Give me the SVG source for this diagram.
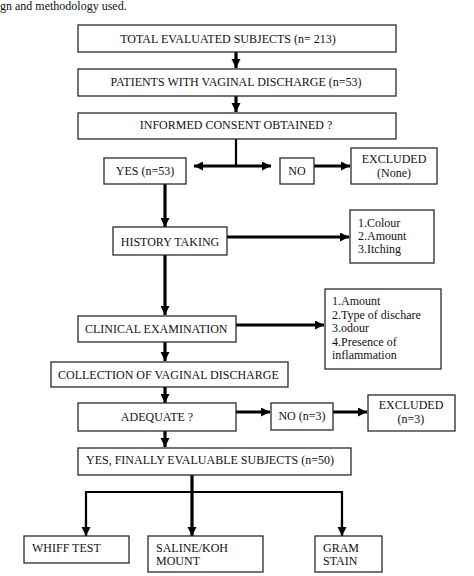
<svg xmlns="http://www.w3.org/2000/svg" width="474" height="576" viewBox="0 0 474 576">
<defs>
<style>
.b{fill:#fff;stroke:#2a2a2a;stroke-width:1.3}
.t{font-family:"Liberation Serif","Times New Roman",serif;font-size:12px;fill:#111}
.c{text-anchor:middle}
.a{stroke:#000;stroke-width:3.2;fill:none}
.l{stroke:#000;stroke-width:2.2;fill:none}
</style>
<marker id="h" markerUnits="userSpaceOnUse" markerWidth="10" markerHeight="10" refX="9" refY="4.5" orient="auto">
<path d="M0,0 L9,4.5 L0,9 z" fill="#000"/>
</marker>
<marker id="hs" markerUnits="userSpaceOnUse" markerWidth="10" markerHeight="10" refX="0" refY="4.5" orient="auto">
<path d="M9,0 L0,4.5 L9,9 z" fill="#000"/>
</marker>
</defs>
<rect width="474" height="576" fill="#fff"/>
<text class="t" x="0" y="10" font-size="13">gn and methodology used.</text>

<g id="connectors">
<line class="a" x1="236" y1="52" x2="236" y2="68" marker-end="url(#h)"/>
<line class="a" x1="236" y1="96" x2="236" y2="112" marker-end="url(#h)"/>
<line class="l" x1="236" y1="139" x2="236" y2="166"/>
<line class="a" x1="194" y1="166" x2="271" y2="166" marker-start="url(#hs)" marker-end="url(#h)"/>
<line class="a" x1="314" y1="166" x2="350" y2="166" marker-end="url(#h)"/>
<line class="a" x1="165" y1="184" x2="165" y2="227" marker-end="url(#h)"/>
<line class="a" x1="227" y1="237" x2="349" y2="237" marker-end="url(#h)"/>
<line class="a" x1="165" y1="255" x2="165" y2="315" marker-end="url(#h)"/>
<line class="a" x1="236" y1="325" x2="324" y2="325" marker-end="url(#h)"/>
<line class="a" x1="165" y1="342" x2="165" y2="361" marker-end="url(#h)"/>
<line class="a" x1="165" y1="387" x2="165" y2="403" marker-end="url(#h)"/>
<line class="a" x1="236" y1="412" x2="270" y2="412" marker-end="url(#h)"/>
<line class="a" x1="333" y1="412" x2="367" y2="412" marker-end="url(#h)"/>
<line class="a" x1="165" y1="431" x2="165" y2="447" marker-end="url(#h)"/>
<line class="a" x1="192" y1="475" x2="192" y2="536" marker-end="url(#h)"/>
<path class="l" d="M86,536 V492 H342 V536" fill="none"/>
<line class="l" x1="86" y1="520" x2="86" y2="536" marker-end="url(#h)"/>
<line class="l" x1="342" y1="520" x2="342" y2="536" marker-end="url(#h)"/>
</g>

<g id="n1"><rect class="b" x="78" y="25" width="318" height="27"/><text class="t c" x="228" y="43">TOTAL EVALUATED SUBJECTS (n= 213)</text></g>
<g id="n2"><rect class="b" x="78" y="69" width="318" height="27"/><text class="t c" x="236" y="86">PATIENTS WITH VAGINAL DISCHARGE (n=53)</text></g>
<g id="n3"><rect class="b" x="78" y="113" width="318" height="26"/><text class="t c" x="236" y="129">INFORMED CONSENT OBTAINED ?</text></g>
<g id="yes"><rect class="b" x="104" y="158" width="82" height="26"/><text class="t c" x="145" y="175">YES (n=53)</text></g>
<g id="no"><rect class="b" x="280" y="158" width="34" height="26"/><text class="t c" x="297" y="175">NO</text></g>
<g id="excl1"><rect class="b" x="351" y="148" width="86" height="36"/><text class="t c" x="394" y="163">EXCLUDED</text><text class="t c" x="394" y="177">(None)</text></g>
<g id="hist"><rect class="b" x="113" y="227" width="114" height="28"/><text class="t c" x="170" y="246">HISTORY TAKING</text></g>
<g id="list1"><rect class="b" x="350" y="210" width="84" height="53"/><text class="t" x="358" y="227">1.Colour</text><text class="t" x="358" y="240">2.Amount</text><text class="t" x="358" y="253">3.Itching</text></g>
<g id="clin"><rect class="b" x="78" y="316" width="158" height="26"/><text class="t" x="85" y="333">CLINICAL EXAMINATION</text></g>
<g id="list2"><rect class="b" x="325" y="289" width="116" height="80"/><text class="t" x="332" y="305">1.Amount</text><text class="t" x="332" y="319">2.Type of dischare</text><text class="t" x="332" y="332">3.odour</text><text class="t" x="332" y="346">4.Presence of</text><text class="t" x="332" y="359">inflammation</text></g>
<g id="coll"><rect class="b" x="51" y="362" width="237" height="25"/><text class="t" x="58" y="379">COLLECTION OF VAGINAL DISCHARGE</text></g>
<g id="adeq"><rect class="b" x="78" y="403" width="158" height="28"/><text class="t c" x="157" y="421">ADEQUATE ?</text></g>
<g id="no3"><rect class="b" x="271" y="403" width="62" height="27"/><text class="t c" x="302" y="420">NO (n=3)</text></g>
<g id="excl2"><rect class="b" x="368" y="395" width="87" height="36"/><text class="t c" x="411" y="409">EXCLUDED</text><text class="t c" x="411" y="423">(n=3)</text></g>
<g id="final"><rect class="b" x="78" y="448" width="273" height="27"/><text class="t" x="86" y="464">YES, FINALLY EVALUABLE SUBJECTS (n=50)</text></g>
<g id="whiff"><rect class="b" x="24" y="536" width="105" height="27"/><text class="t" x="32" y="552">WHIFF TEST</text></g>
<g id="saline"><rect class="b" x="148" y="536" width="115" height="36"/><text class="t" x="156" y="552">SALINE/KOH</text><text class="t" x="156" y="565">MOUNT</text></g>
<g id="gram"><rect class="b" x="315" y="536" width="67" height="36"/><text class="t" x="323" y="552">GRAM</text><text class="t" x="323" y="565">STAIN</text></g>
</svg>
